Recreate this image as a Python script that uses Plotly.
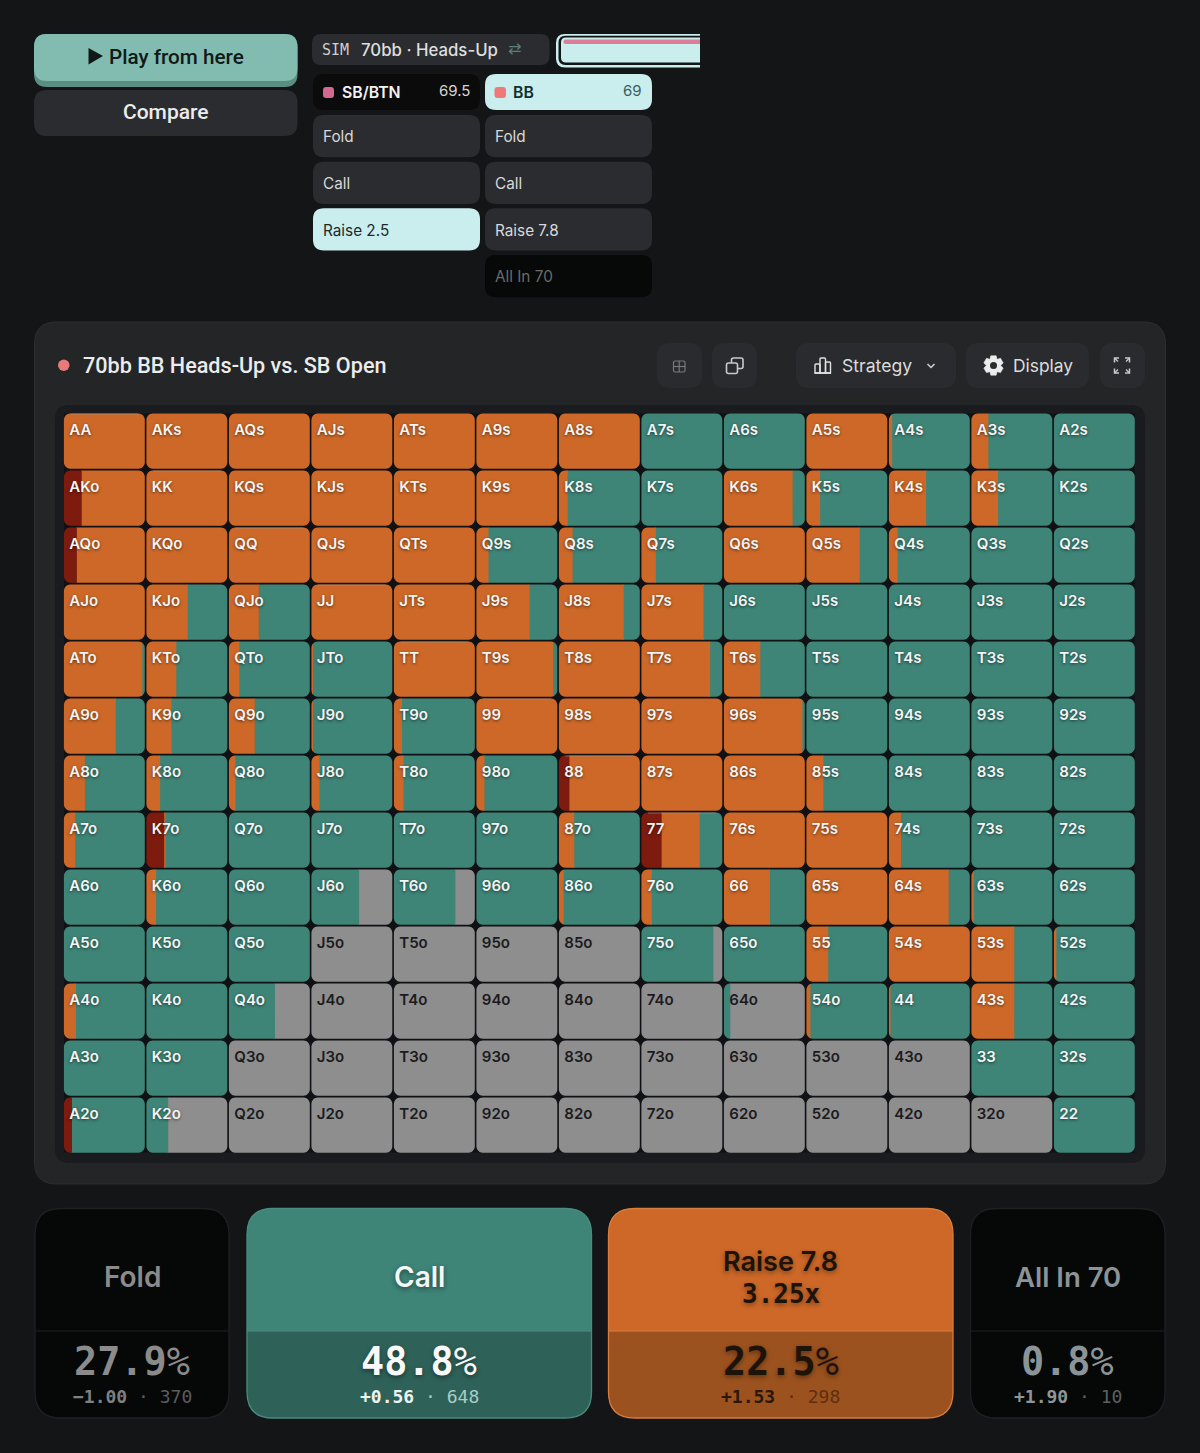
"""
plot.py
-------
Preflop range grid for 70bb BB vs. SB open, with the solver UI around it.
"""

import numpy as np
import plotly.graph_objects as go

# ── DATA ──────────────────────────────────────────────────────────────────────

RANKS = ["A", "K", "Q", "J", "T", "9", "8", "7", "6", "5", "4", "3", "2"]

# Share of each hand (%), rows/cols follow RANKS. Call is what is left over.
RAISE = [
    [100, 100, 100, 100, 100, 100, 100,   0,   0, 100,   4,  21,   0],
    [ 78, 100, 100, 100, 100, 100,  11,   0,  85,  17,  46,  33,   0],
    [ 84, 100, 100, 100, 100,  15,  17,  18, 100,  66,  11,   0,   0],
    [100,  51,  37, 100, 100,  66,  80,  77,   0,   0,   0,   0,   0],
    [ 97,  37,  13,   2, 100,  95, 100,  85,  45,   0,   0,   0,   0],
    [ 64,  31,  32,   2,  10, 100, 100, 100,  97,   0,   0,   0,   0],
    [ 26,  17,   8,  10,  12,  10,  87, 100, 100,  21,   0,   0,   0],
    [ 14,   2,   0,   0,   0,   0,  19,  47, 100, 100,  15,   0,   0],
    [  0,  12,   0,   0,   0,   0,   6,  13,  57, 100,  74,   3,   0],
    [  0,   0,   0,   0,   0,   0,   0,   0,   0,  27, 100,  53,   3],
    [ 15,   0,   0,   0,   0,   0,   0,   0,   0,   5,   2,  53,   0],
    [  0,   0,   0,   0,   0,   0,   0,   0,   0,   0,   0,   0,   0],
    [  0,   0,   0,   0,   0,   0,   0,   0,   0,   0,   0,   0,   0],
]
ALLIN = [
    [  0,   0,   0,   0,   0,   0,   0,   0,   0,   0,   0,   0,   0],
    [ 22,   0,   0,   0,   0,   0,   0,   0,   0,   0,   0,   0,   0],
    [ 16,   0,   0,   0,   0,   0,   0,   0,   0,   0,   0,   0,   0],
    [  0,   0,   0,   0,   0,   0,   0,   0,   0,   0,   0,   0,   0],
    [  0,   0,   0,   0,   0,   0,   0,   0,   0,   0,   0,   0,   0],
    [  0,   0,   0,   0,   0,   0,   0,   0,   0,   0,   0,   0,   0],
    [  0,   0,   0,   0,   0,   0,  13,   0,   0,   0,   0,   0,   0],
    [  0,  22,   0,   0,   0,   0,   0,  25,   0,   0,   0,   0,   0],
    [  0,   0,   0,   0,   0,   0,   0,   0,   0,   0,   0,   0,   0],
    [  0,   0,   0,   0,   0,   0,   0,   0,   0,   0,   0,   0,   0],
    [  0,   0,   0,   0,   0,   0,   0,   0,   0,   0,   0,   0,   0],
    [  0,   0,   0,   0,   0,   0,   0,   0,   0,   0,   0,   0,   0],
    [ 10,   0,   0,   0,   0,   0,   0,   0,   0,   0,   0,   0,   0],
]
FOLD = [
    [  0,   0,   0,   0,   0,   0,   0,   0,   0,   0,   0,   0,   0],
    [  0,   0,   0,   0,   0,   0,   0,   0,   0,   0,   0,   0,   0],
    [  0,   0,   0,   0,   0,   0,   0,   0,   0,   0,   0,   0,   0],
    [  0,   0,   0,   0,   0,   0,   0,   0,   0,   0,   0,   0,   0],
    [  0,   0,   0,   0,   0,   0,   0,   0,   0,   0,   0,   0,   0],
    [  0,   0,   0,   0,   0,   0,   0,   0,   0,   0,   0,   0,   0],
    [  0,   0,   0,   0,   0,   0,   0,   0,   0,   0,   0,   0,   0],
    [  0,   0,   0,   0,   0,   0,   0,   0,   0,   0,   0,   0,   0],
    [  0,   0,   0,  41,  24,   0,   0,   0,   0,   0,   0,   0,   0],
    [  0,   0,   0, 100, 100, 100, 100,  11,   0,   0,   0,   0,   0],
    [  0,   0,  43, 100, 100, 100, 100, 100,  92,   0,   0,   0,   0],
    [  0,   0, 100, 100, 100, 100, 100, 100, 100, 100, 100,   0,   0],
    [  0,  73, 100, 100, 100, 100, 100, 100, 100, 100, 100, 100,   0],
]

STAT_NAMES = ["Fold", "Call", "Raise 7.8", "All In 70"]
STAT_SIZE  = ["", "", "3.25x", ""]
STAT_PCT   = ["27.9", "48.8", "22.5", "0.8"]
STAT_EV    = ["−1.00", "+0.56", "+1.53", "+1.90"]
STAT_COMBO = ["370", "648", "298", "10"]

SEAT_NAMES  = ["SB/BTN", "BB"]
SEAT_STACKS = ["69.5", "69"]
SB_OPTIONS  = ["Fold", "Call", "Raise 2.5"]
BB_OPTIONS  = ["Fold", "Call", "Raise 7.8", "All In 70"]

TITLE = "70bb BB Heads-Up vs. SB Open"

# ── STYLE ─────────────────────────────────────────────────────────────────────

W, H = 1200, 1453

BG       = "#131517"
CARD     = "#232527"
BTN      = "#2b2c2f"
LIGHT    = "#c9eeed"
C_ALLIN  = "#7c1b0e"
C_RAISE  = "#cd6828"
C_CALL   = "#3e8477"
C_FOLD   = "#8e8e8e"

SANS = "Inter, Roboto, sans-serif"
HEAD = "Roboto, Inter, sans-serif"
MONO = "'DejaVu Sans Mono', monospace"

# grid geometry in pixels
GX0, GY0 = 63.1, 412.6
PITCH_X, PITCH_Y = 82.5, 57.0
CELL_W, CELL_H = 80.9, 55.3
CELL_R = 6.5
LIGHT_SHADOW = "0 1px 3px rgba(0,0,0,0.55)"

# ── HELPERS ───────────────────────────────────────────────────────────────────

def pt(x, y):
    return f"{x / W:.5f},{1 - y / H:.5f}"


def round_path(x0, y0, x1, y1, r):
    tl, tr, br, bl = (r, r, r, r) if np.isscalar(r) else r
    return (
        f"M{pt(x0 + tl, y0)} L{pt(x1 - tr, y0)} Q{pt(x1, y0)} {pt(x1, y0 + tr)} "
        f"L{pt(x1, y1 - br)} Q{pt(x1, y1)} {pt(x1 - br, y1)} "
        f"L{pt(x0 + bl, y1)} Q{pt(x0, y1)} {pt(x0, y1 - bl)} "
        f"L{pt(x0, y0 + tl)} Q{pt(x0, y0)} {pt(x0 + tl, y0)} Z"
    )


def box(x0, y0, x1, y1, r, fill="rgba(0,0,0,0)", line=None, lw=1):
    return dict(
        type="path", xref="paper", yref="paper", layer="below",
        path=round_path(x0, y0, x1, y1, r), fillcolor=fill,
        line=dict(color=line or "rgba(0,0,0,0)", width=lw if line else 0),
    )


def stroke(points, color, lw=1.5, fill="rgba(0,0,0,0)", close=False):
    path = "M" + " L".join(pt(x, y) for x, y in points) + (" Z" if close else "")
    return dict(
        type="path", xref="paper", yref="paper", layer="below", path=path,
        fillcolor=fill, line=dict(color=color, width=lw),
    )


def label(x, y, text, size, color, weight=400, anchor="left", family=SANS, shadow=None):
    font = dict(size=size, color=color, family=family, weight=weight)
    if shadow:
        font["shadow"] = shadow
    return dict(
        xref="paper", yref="paper", x=x / W, y=1 - y / H, text=text, font=font,
        xanchor=anchor, yanchor="middle", showarrow=False, align="center",
        borderpad=0, borderwidth=0,
    )


def slice_polygon(col, row, a, b):
    """Outline of the part a..b (0-1) of a rounded cell, in grid units."""
    left, right = a * CELL_W, b * CELL_W
    arc = CELL_R * (1 - np.cos(np.linspace(0, np.pi / 2, 7)))
    stops = np.concatenate([arc, CELL_W - arc, [left, right]])
    xs = np.unique(stops[(stops >= left) & (stops <= right)])
    edge = np.maximum(CELL_R - np.minimum(xs, CELL_W - xs), 0)
    inset = CELL_R - np.sqrt(np.maximum(CELL_R ** 2 - edge ** 2, 0))
    px = np.concatenate([xs, xs[::-1]])
    py = np.concatenate([inset, (CELL_H - inset)[::-1]])
    off_x = (PITCH_X - CELL_W) / 2
    off_y = (PITCH_Y - CELL_H) / 2
    return col + (off_x + px) / PITCH_X, row + (off_y + py) / PITCH_Y


def hand_name(row, col):
    if row == col:
        return RANKS[row] * 2
    if row < col:
        return RANKS[row] + RANKS[col] + "s"
    return RANKS[col] + RANKS[row] + "o"

# ── CHROME ────────────────────────────────────────────────────────────────────

shapes = []
notes = []

# play / compare
shapes.append(box(34, 34, 297.5, 87, 13, fill="#5c8f84"))
shapes.append(box(34, 34, 297.5, 81, 13, fill="#82bcb1"))
shapes.append(stroke([(88.5, 48), (103, 56), (88.5, 64.5)], "#0f1a18", lw=0, fill="#0f1a18", close=True))
notes.append(label(109, 56.5, "Play from here", 20.7, "#101a18", 500, family=HEAD))
shapes.append(box(34, 90, 297.5, 136, 13, fill=BTN))
notes.append(label(166, 112, "Compare", 21, "#ececec", 500, "center", family=HEAD))

# sim pill and the cut off bar next to it
shapes.append(box(312, 34, 549.5, 65, 9, fill=BTN))
notes.append(label(322, 49.5, "SIM", 15, "#cfcfcf", 500, family=MONO))
notes.append(label(361, 49.5, "70bb · Heads-Up", 16.8, "#dedede", 500))
notes.append(label(514, 48.5, "⇄", 16, "#5b7f78", family="DejaVu Sans", anchor="center"))
shapes.append(box(556, 34, 720, 67.5, (9, 0, 0, 9), fill=LIGHT))
shapes.append(box(558.5, 35.8, 720, 65, (7, 0, 0, 7), fill=BG))
shapes.append(box(561, 37.5, 720, 62.5, (5, 0, 0, 5), fill=LIGHT))
shapes.append(box(563.5, 39.5, 720, 44, (2, 0, 0, 2), fill="#dc7c98"))
shapes.append(dict(type="rect", xref="paper", yref="paper", layer="below",
                   x0=700 / W, x1=730 / W, y0=1 - 30 / H, y1=1 - 72 / H,
                   fillcolor=BG, line=dict(width=0)))

# seats
shapes.append(box(313, 74, 480, 110, 11, fill="#0b0b0c"))
shapes.append(box(323, 87, 334, 98, 3, fill="#d2688f"))
notes.append(label(342, 92.3, SEAT_NAMES[0], 15.8, "#f2f2f2", 600))
notes.append(label(470, 91, SEAT_STACKS[0], 15, "#d5d5d5", 400, "right"))
shapes.append(box(485, 74, 652, 110, 11, fill=LIGHT))
shapes.append(box(494.5, 87, 506, 98, 3, fill="#f07878"))
notes.append(label(513, 92.3, SEAT_NAMES[1], 15.8, "#12302e", 600))
notes.append(label(642, 91, SEAT_STACKS[1], 15, "#3d5d5b", 400, "right"))

OPTION_Y = [115, 161.7, 208.3, 255]
for name, y in zip(SB_OPTIONS, OPTION_Y):
    active = name.startswith("Raise")
    shapes.append(box(313, y, 480, y + 42.3, 11, fill=LIGHT if active else BTN))
    notes.append(label(323, y + 21.8, name, 15.3, "#1d2a2b" if active else "#d8d8d8"))
for name, y in zip(BB_OPTIONS, OPTION_Y):
    allin = name.startswith("All")
    shapes.append(box(485, y, 652, y + 42.3, 11, fill="#070808" if allin else BTN))
    notes.append(label(494.5, y + 21.8, name, 15.3, "#6b6b6b" if allin else "#d8d8d8"))

# main card and its header
shapes.append(box(34.5, 322, 1165.5, 1184, 22, fill=CARD, line="#2c2e31", lw=1))
shapes.append(dict(type="circle", xref="paper", yref="paper", layer="below",
                   x0=58 / W, x1=69.5 / W, y0=1 - 359.5 / H, y1=1 - 371 / H,
                   fillcolor="#e97a78", line=dict(width=0)))
notes.append(label(83, 365.5, TITLE, 21.6, "#ececec", 500, family=HEAD))

for x0, x1 in [(657, 702), (712, 757), (796, 956), (966, 1089), (1100, 1145)]:
    shapes.append(box(x0, 343, x1, 388, 13, fill="#2a2b2e"))

# small grid icon
shapes.append(box(673.5, 361, 685, 372, 1.5, line="#77797b", lw=1.2))
shapes.append(stroke([(679.2, 361), (679.2, 372)], "#77797b", 1.2))
shapes.append(stroke([(673.5, 366.5), (685, 366.5)], "#77797b", 1.2))
# copy icon
shapes.append(box(731.5, 358, 743, 368.5, 2, line="#c9c9c9", lw=1.6))
shapes.append(box(726.5, 363, 737.5, 373.5, 2, fill="#2a2b2e", line="#c9c9c9", lw=1.6))
# bars icon
shapes.append(stroke([(814.5, 373), (831, 373)], "#e2e2e2", 1.5))
shapes.append(box(815, 364, 820, 373, (1, 1, 0, 0), line="#e2e2e2", lw=1.4))
shapes.append(box(820, 358, 825.5, 373, (1, 1, 0, 0), line="#e2e2e2", lw=1.4))
shapes.append(box(825.5, 362, 830.5, 373, (1, 1, 0, 0), line="#e2e2e2", lw=1.4))
notes.append(label(842, 365.5, "Strategy", 17.6, "#dcdcdc"))
shapes.append(stroke([(927.5, 364), (931, 367.5), (934.5, 364)], "#cfcfcf", 1.6))
# gear icon, solid with a hole in the middle
gear = []
for k in range(6):
    mid = np.pi / 6 + k * np.pi / 3
    for ang, rad in [(-0.5, 7.3), (-0.27, 10), (0.27, 10), (0.5, 7.3)]:
        gear.append((993.5 + rad * np.cos(mid + ang), 365.5 + rad * np.sin(mid + ang)))
shapes.append(stroke(gear, "#ececec", lw=0.6, fill="#ececec", close=True))
shapes.append(dict(type="circle", xref="paper", yref="paper", layer="below",
                   x0=990 / W, x1=997 / W, y0=1 - 362 / H, y1=1 - 369 / H,
                   fillcolor="#2a2b2e", line=dict(width=0)))
notes.append(label(1013, 365.5, "Display", 17.4, "#dcdcdc"))
# expand icon
for sx, sy in [(-1, -1), (1, -1), (-1, 1), (1, 1)]:
    cx, cy = 1122 + sx * 7.5, 365.5 + sy * 7.5
    shapes.append(stroke([(cx - sx * 4.5, cy), (cx, cy), (cx, cy - sy * 4.5)], "#c9c9c9", 1.5))
    shapes.append(stroke([(cx, cy), (cx - sx * 3.5, cy - sy * 3.5)], "#c9c9c9", 1.2))

# grid backing
shapes.append(box(55, 405, 1145, 1163, 14, fill="#191b1f"))
shapes.append(dict(type="rect", xref="paper", yref="paper", layer="below",
                   x0=(GX0 + 1) / W, x1=(GX0 + 13 * PITCH_X - 1) / W,
                   y0=1 - (GY0 + 1) / H, y1=1 - (GY0 + 13 * PITCH_Y - 1) / H,
                   fillcolor="#101114", line=dict(width=0)))

# ── STAT CARDS ────────────────────────────────────────────────────────────────

CARD_X = [(35, 229), (247, 591.5), (608.5, 953), (970.5, 1165)]
CARD_TOP = ["#060707", C_CALL, C_RAISE, "#060707"]
CARD_LOW = ["#060707", "#2e6259", "#9c521e", "#060707"]
CARD_EDGE = ["#1f2022", "#4a8b7f", "#d97d3c", "#1f2022"]
NAME_COL = ["#8b8b8b", "#f6f6f6", "#1e1308", "#8b9496"]
PCT_COL = ["#8b8b8b", "#f8f8f8", "#1e1308", "#8b9496"]
EV_COL = ["#7f8080", "#eef3f2", "#2a1708", "#8f9697"]
COMBO_COL = ["#5b5c5c", "#a9cdc6", "#5d2f10", "#5b6061"]
CARD_SHADOW = [None, "0 2px 5px rgba(0,0,0,0.45)", "0 2px 5px rgba(0,0,0,0.4)", None]
NAME_PX = [28, 28, 27, 27.5]

for i, (x0, x1) in enumerate(CARD_X):
    cx = (x0 + x1) / 2
    shapes.append(box(x0, 1208.5, x1, 1418, 26, fill=CARD_LOW[i]))
    shapes.append(box(x0, 1208.5, x1, 1331, (26, 26, 0, 0), fill=CARD_TOP[i]))
    shapes.append(stroke([(x0, 1331), (x1, 1331)], CARD_EDGE[i], 1))
    shapes.append(box(x0, 1208.5, x1, 1418, 26, line=CARD_EDGE[i], lw=1.3))

    name_y = 1261.5 if STAT_SIZE[i] else 1277
    notes.append(label(cx, name_y, STAT_NAMES[i], NAME_PX[i], NAME_COL[i], 600, "center", shadow=CARD_SHADOW[i]))
    if STAT_SIZE[i]:
        notes.append(label(cx, 1294, f"<b>{STAT_SIZE[i]}</b>", 26, NAME_COL[i], 400, "center",
                           family=MONO, shadow=CARD_SHADOW[i]))
    notes.append(label(cx, 1361, f"<b>{STAT_PCT[i]}</b>%", 38.5, PCT_COL[i], 400, "center",
                       family=MONO, shadow=CARD_SHADOW[i]))
    ev = (f"<b>{STAT_EV[i]}</b> <span style='color:{COMBO_COL[i]}'>·</span> "
          f"<span style='color:{COMBO_COL[i]}'>{STAT_COMBO[i]}</span>")
    notes.append(label(cx, 1396.5, ev, 18, EV_COL[i], 400, "center", family=MONO))

# ── GRID ──────────────────────────────────────────────────────────────────────

fig = go.Figure()

polys = {"All In": ([], []), "Raise": ([], []), "Call": ([], []), "Fold": ([], [])}
for r in range(13):
    for c in range(13):
        call = 100 - ALLIN[r][c] - RAISE[r][c] - FOLD[r][c]
        start = 0
        for action, share in [("All In", ALLIN[r][c]), ("Raise", RAISE[r][c]),
                              ("Call", call), ("Fold", FOLD[r][c])]:
            if share <= 0:
                continue
            # tuck the left edge under the neighbour, stops a dark seam showing
            left = max(start - 0.8, 0)
            px, py = slice_polygon(c, r, left / 100, (start + share) / 100)
            polys[action][0].extend(px.tolist() + [None])
            polys[action][1].extend(py.tolist() + [None])
            start += share

for action, color in [("Fold", C_FOLD), ("Call", C_CALL), ("Raise", C_RAISE), ("All In", C_ALLIN)]:
    fig.add_trace(go.Scatter(
        x=polys[action][0], y=polys[action][1], mode="lines", fill="toself",
        fillcolor=color, line=dict(width=0, color=color, simplify=False),
        hoverinfo="skip", name=action, showlegend=False,
    ))

# thin strip along the top of the pairs that are played
strip_x, strip_y = [], []
for i, rank in enumerate(RANKS[:8]):
    strip_x += [i + 0.09, i + 0.91, None]
    strip_y += [i + 0.025, i + 0.025, None]
fig.add_trace(go.Scatter(
    x=strip_x, y=strip_y, mode="lines", hoverinfo="skip", showlegend=False,
    line=dict(color="rgba(165,150,135,0.6)", width=1),
))

# hand labels, dark text on the mostly folded cells
for dark in [False, True]:
    xs, ys, names, hover = [], [], [], []
    for r in range(13):
        for c in range(13):
            if (FOLD[r][c] >= 90) != dark:
                continue
            call = 100 - ALLIN[r][c] - RAISE[r][c] - FOLD[r][c]
            xs.append(c + 6.2 / PITCH_X)
            ys.append(r + 18.2 / PITCH_Y)
            names.append(hand_name(r, c))
            hover.append(f"<b>{hand_name(r, c)}</b><br>All In {ALLIN[r][c]}%<br>"
                         f"Raise {RAISE[r][c]}%<br>Call {call}%<br>Fold {FOLD[r][c]}%")
    font = dict(size=15, family=SANS, weight=600, color="#1b1b1d" if dark else "#f4f4f4")
    if not dark:
        font["shadow"] = LIGHT_SHADOW
    fig.add_trace(go.Scatter(
        x=xs, y=ys, mode="text", text=names, textposition="middle right", textfont=font,
        hovertext=hover, hovertemplate="%{hovertext}<extra></extra>", showlegend=False,
    ))

fig.update_layout(
    width=W, height=H,
    margin=dict(l=0, r=0, t=0, b=0),
    paper_bgcolor=BG, plot_bgcolor="rgba(0,0,0,0)",
    showlegend=False,
    shapes=shapes, annotations=notes,
    xaxis=dict(range=[0, 13], domain=[GX0 / W, (GX0 + 13 * PITCH_X) / W], visible=False, fixedrange=True),
    yaxis=dict(range=[13, 0], domain=[1 - (GY0 + 13 * PITCH_Y) / H, 1 - GY0 / H], visible=False, fixedrange=True),
)

fig.write_html(
    "out.html",
    config=dict(displayModeBar=False),
    post_script=f"document.body.style.margin='0';document.body.style.background='{BG}';",
)
